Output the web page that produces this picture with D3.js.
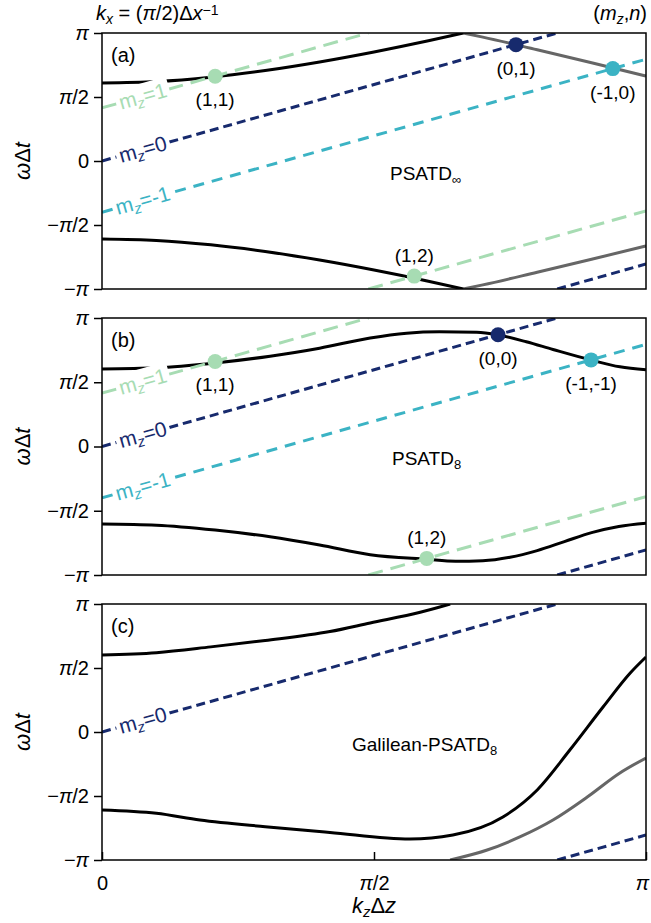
<!DOCTYPE html>
<meta charset="utf-8">
<body style="margin:0;background:#fff">
<script src="https://cdn.jsdelivr.net/npm/d3@7"></script>
<script>
var width = 651, height = 923;

// kz*dz and w*dt are both stored in units of pi
var yTicks = [-1, -0.5, 0, 0.5, 1];
var yTickLabels = ["−π", "−π/2", "0", "π/2", "π"];
var xTicks = [0, 0.5, 1];
var xTickLabels = ["0", "π/2", "π"];

// resonance lines w = w0 + slope*kz, wrapped into [-pi, pi]
var mzValues = [1, 0, -1];
var mzIntercept = [0.415, 0, -0.40];
var mzSlope = 1.195;
var mzColors = ["#a7dcb3", "#172a6d", "#3bb3c4"];
var mzDash = ["15,8", "9,5", "11,8"];

// (a) PSATD_inf dispersion
var aUpper = [[0,0.61],[0.1,0.621],[0.2,0.655],[0.3,0.707],[0.4,0.774],[0.5,0.852],[0.6,0.939],[0.664,1.0]];
var aLower = [[0,-0.61],[0.1,-0.621],[0.2,-0.655],[0.3,-0.707],[0.4,-0.774],[0.5,-0.852],[0.6,-0.939],[0.664,-1.0]];
var aAliasTop = [[0.664,1.0],[0.7,0.968],[0.8,0.869],[0.9,0.768],[1.0,0.663]];
var aAliasBottom = [[0.664,-1.0],[0.7,-0.968],[0.8,-0.869],[0.9,-0.768],[1.0,-0.663]];

// (b) PSATD_8 dispersion
var bUpper = [[0,0.603],[0.1,0.612],[0.208,0.650],[0.309,0.703],[0.4,0.765],[0.493,0.845],[0.56,0.882],[0.62,0.893],[0.689,0.889],[0.728,0.868],[0.78,0.815],[0.829,0.755],[0.899,0.673],[0.952,0.620],[1.0,0.597]];
var bLower = [[0,-0.603],[0.1,-0.612],[0.208,-0.650],[0.309,-0.703],[0.4,-0.767],[0.493,-0.842],[0.597,-0.878],[0.65,-0.893],[0.70,-0.889],[0.75,-0.862],[0.80,-0.81],[0.85,-0.74],[0.90,-0.67],[0.95,-0.622],[1.0,-0.597]];

// (c) Galilean-PSATD_8 dispersion
var cUpper = [[0,0.602],[0.1,0.62],[0.2,0.665],[0.3,0.715],[0.419,0.785],[0.493,0.852],[0.585,0.935],[0.64,1.0]];
var cLower = [[0,-0.609],[0.1,-0.635],[0.18,-0.6875],[0.3,-0.74],[0.419,-0.785],[0.566,-0.836],[0.645,-0.805],[0.737,-0.664],[0.8,-0.453],[0.86,-0.141],[0.921,0.195],[0.971,0.461],[1.0,0.586]];
var cAlias = [[0.64,-1.0],[0.708,-0.922],[0.768,-0.82],[0.829,-0.6875],[0.892,-0.508],[0.952,-0.32],[1.0,-0.203]];

// intersection points (mz, n)
var aPointK = [0.208, 0.761, 0.939, 0.574];
var aPointW = [0.662, 0.909, 0.722, -0.899];
var aPointMz = [1, 0, -1, 1];
var aPointText = ["(1,1)", "(0,1)", "(-1,0)", "(1,2)"];
var bPointK = [0.208, 0.728, 0.899, 0.597];
var bPointW = [0.662, 0.870, 0.674, -0.871];
var bPointMz = [1, 0, -1, 1];
var bPointText = ["(1,1)", "(0,0)", "(-1,-1)", "(1,2)"];

var font = "'Liberation Sans', Arial, sans-serif";

var panels = [
  {top: 33, bottom: 289, tag: "(a)", name: "PSATD", sub: "∞", nameX: 390, mz: [1, 0, -1],
   black: [aUpper, aLower], gray: [aAliasTop, aAliasBottom],
   pk: aPointK, pw: aPointW, pm: aPointMz, pt: aPointText},
  {top: 318, bottom: 575, tag: "(b)", name: "PSATD", sub: "8", nameX: 392, mz: [1, 0, -1],
   black: [bUpper, bLower], gray: [],
   pk: bPointK, pw: bPointW, pm: bPointMz, pt: bPointText},
  {top: 604, bottom: 860, tag: "(c)", name: "Galilean-PSATD", sub: "8", nameX: 352, mz: [0],
   black: [cUpper, cLower], gray: [cAlias],
   pk: [], pw: [], pm: [], pt: []}
];

var svg = d3.select("body").append("svg")
  .attr("width", width)
  .attr("height", height)
  .style("font-family", font);

var x = d3.scaleLinear().domain([0, 1]).range([102, 646]);

// put italic pi into tick labels
function mathify(sel) {
  sel.each(function() {
    var t = d3.select(this), s = t.text();
    t.text(null);
    s.split(/(π)/).forEach(function(part) {
      if (part === "") return;
      t.append("tspan").text(part).style("font-style", part === "π" ? "italic" : null);
    });
  });
}

panels.forEach(function(p, pi) {
  var y = d3.scaleLinear().domain([-1, 1]).range([p.bottom, p.top]);
  var line = d3.line().x(function(d) { return x(d[0]); }).y(function(d) { return y(d[1]); })
    .curve(d3.curveMonotoneX);

  svg.append("clipPath").attr("id", "clip" + pi)
    .append("rect").attr("x", x(0)).attr("y", p.top).attr("width", x(1) - x(0)).attr("height", p.bottom - p.top);

  var g = svg.append("g").attr("clip-path", "url(#clip" + pi + ")");

  // dispersion curves
  g.selectAll(".gray").data(p.gray).enter().append("path")
    .attr("d", line).attr("fill", "none").attr("stroke", "#666").attr("stroke-width", 3);
  g.selectAll(".black").data(p.black).enter().append("path")
    .attr("d", line).attr("fill", "none").attr("stroke", "#000").attr("stroke-width", 3);

  // resonance lines, wrapped at +pi
  p.mz.forEach(function(m) {
    var i = mzValues.indexOf(m);
    var b = mzIntercept[i];
    var segs = [];
    var kc = (1 - b) / mzSlope;
    if (kc < 1) {
      segs.push([[0, b], [kc, 1]]);
      segs.push([[kc, -1], [1, b - 2 + mzSlope]]);
    } else {
      segs.push([[0, b], [1, b + mzSlope]]);
    }
    segs.forEach(function(s) {
      g.append("path").attr("d", d3.line().x(function(d) { return x(d[0]); }).y(function(d) { return y(d[1]); })(s))
        .attr("fill", "none").attr("stroke", mzColors[i]).attr("stroke-width", 3)
        .attr("stroke-dasharray", mzDash[i]);
    });
  });

  // inline labels on the lines
  var labK = 0.075;
  var ang = Math.atan2(y(0) - y(mzSlope), x(1) - x(0)) * 180 / Math.PI;
  p.mz.forEach(function(m) {
    var i = mzValues.indexOf(m);
    var lg = svg.append("g")
      .attr("transform", "translate(" + x(labK) + "," + y(mzIntercept[i] + mzSlope * labK) + ") rotate(" + (-ang) + ")");
    var t = lg.append("text").attr("text-anchor", "middle").attr("y", 7)
      .attr("fill", mzColors[i]).style("font-size", "21px");
    t.append("tspan").text("m");
    t.append("tspan").text("z").style("font-size", "15px").style("font-style", "italic").attr("dy", 4);
    t.append("tspan").text("=" + m).attr("dy", -4);
    var bb = t.node().getBBox();
    lg.insert("rect", "text").attr("x", bb.x - 3).attr("y", -13).attr("width", bb.width + 6).attr("height", 26)
      .attr("fill", "#fff");
  });

  // intersection points
  p.pk.forEach(function(k, j) {
    var i = mzValues.indexOf(p.pm[j]);
    svg.append("circle").attr("cx", x(k)).attr("cy", y(p.pw[j])).attr("r", 7.5).attr("fill", mzColors[i]);
    svg.append("text").attr("x", x(k)).attr("y", y(p.pw[j]) + (p.pw[j] > 0 ? 30 : -14))
      .attr("text-anchor", "middle").style("font-size", "19px").text(p.pt[j]);
  });

  // frame
  svg.append("rect").attr("x", x(0)).attr("y", p.top).attr("width", x(1) - x(0)).attr("height", p.bottom - p.top)
    .attr("fill", "none").attr("stroke", "#000").attr("stroke-width", 1.5);

  // y axis
  var ya = svg.append("g").attr("transform", "translate(" + x(0) + ",0)")
    .call(d3.axisLeft(y).tickValues(yTicks).tickSize(8).tickPadding(5)
      .tickFormat(function(d, i) { return yTickLabels[i]; }));
  ya.select(".domain").remove();
  ya.selectAll("line").attr("stroke-width", 1.5);
  ya.selectAll("text").style("font-size", "20px").style("font-family", font).attr("fill", "#000").call(mathify);

  // x ticks only on the last panel, pointing inward
  if (pi === panels.length - 1) {
    var xa = svg.append("g").attr("transform", "translate(0," + p.bottom + ")")
      .call(d3.axisBottom(x).tickValues(xTicks).tickSizeInner(-8).tickSizeOuter(0).tickPadding(16)
        .tickFormat(function(d, i) { return xTickLabels[i]; }));
    xa.select(".domain").remove();
    xa.selectAll("line").attr("stroke-width", 1.5);
    xa.selectAll("text").style("font-size", "20px").style("font-family", font).attr("fill", "#000").call(mathify);
    xa.selectAll("text").filter(function(d) { return d === 1; }).attr("dx", -4);
  }

  // y label
  var yl = svg.append("text").attr("transform", "translate(30," + ((p.top + p.bottom) / 2) + ") rotate(-90)")
    .attr("text-anchor", "middle").style("font-size", "22px");
  yl.append("tspan").text("ω").style("font-style", "italic");
  yl.append("tspan").text("Δ");
  yl.append("tspan").text("t").style("font-style", "italic");

  // panel tag and scheme name
  svg.append("text").attr("x", 111).attr("y", p.top + 29).style("font-size", "20px").text(p.tag);
  var nm = svg.append("text").attr("x", p.nameX).attr("y", p.top + 147).style("font-size", "19px");
  nm.append("tspan").text(p.name);
  nm.append("tspan").text(p.sub).style("font-size", "13px").attr("dy", 4);
});

// x label
var xl = svg.append("text").attr("x", x(0.5)).attr("y", 913).attr("text-anchor", "middle").style("font-size", "22px");
xl.append("tspan").text("k").style("font-style", "italic");
xl.append("tspan").text("z").style("font-style", "italic").style("font-size", "15px").attr("dy", 4);
xl.append("tspan").text("Δ").attr("dy", -4);
xl.append("tspan").text("z").style("font-style", "italic");

// top annotations
var kx = svg.append("text").attr("x", 96).attr("y", 20).style("font-size", "20px");
kx.append("tspan").text("k").style("font-style", "italic");
kx.append("tspan").text("x").style("font-style", "italic").style("font-size", "14px").attr("dy", 4);
kx.append("tspan").text(" = (").attr("dy", -4);
kx.append("tspan").text("π").style("font-style", "italic");
kx.append("tspan").text("/2)Δ");
kx.append("tspan").text("x").style("font-style", "italic");
kx.append("tspan").text("−1").style("font-size", "14px").attr("dy", -5);

var mn = svg.append("text").attr("x", 647).attr("y", 20).attr("text-anchor", "end").style("font-size", "20px");
mn.append("tspan").text("(");
mn.append("tspan").text("m").style("font-style", "italic");
mn.append("tspan").text("z").style("font-style", "italic").style("font-size", "14px").attr("dy", 4);
mn.append("tspan").text(",").attr("dy", -4);
mn.append("tspan").text("n").style("font-style", "italic");
mn.append("tspan").text(")");
</script>
